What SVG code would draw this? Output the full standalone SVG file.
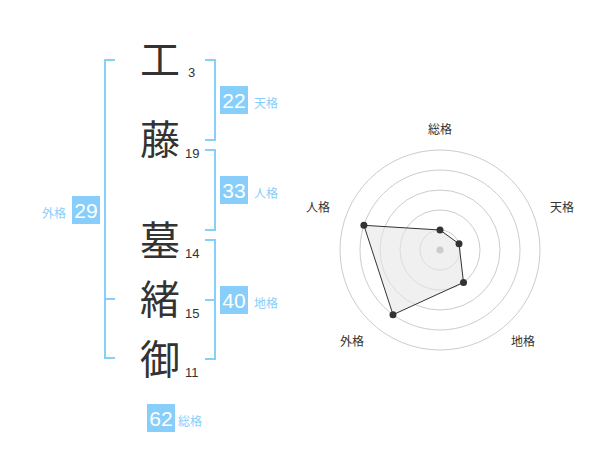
<svg xmlns="http://www.w3.org/2000/svg" width="600" height="470" viewBox="0 0 600 470">
<style>
.ch{font-family:"Noto Sans CJK JP","Noto Sans CJK SC",sans-serif;font-size:40px;fill:#333;text-anchor:middle}
.sn{font-family:"Liberation Sans",Arial,sans-serif;font-size:13px;fill:#333}
.br{fill:none;stroke:#87cefa;stroke-width:2}
.box{fill:#87cefa}
.bn{font-family:"Liberation Sans",Arial,sans-serif;font-size:21px;fill:#fff;text-anchor:middle}
.bl{font-family:"Noto Sans CJK JP","Noto Sans CJK SC",sans-serif;font-size:12px;fill:#87cefa}
.ring{fill:none;stroke:#ccc;stroke-width:1}
.rl{font-family:"Noto Sans CJK JP","Noto Sans CJK SC",sans-serif;font-size:12px;fill:#333;text-anchor:middle}
.dot{fill:#333}
</style>
<rect width="600" height="470" fill="#fff"/>
<g id="chars">
<g id="c1"><text class="ch" x="160" y="74">工</text><text class="sn" x="188" y="77">3</text></g>
<g id="c2"><text class="ch" x="160" y="154">藤</text><text class="sn" x="185" y="158">19</text></g>
<g id="c3"><text class="ch" x="160" y="255">墓</text><text class="sn" x="185" y="258">14</text></g>
<g id="c4"><text class="ch" x="160" y="314">緒</text><text class="sn" x="185" y="318">15</text></g>
<g id="c5"><text class="ch" x="160" y="374">御</text><text class="sn" x="185" y="377">11</text></g>
</g>
<g id="connectors">
<path class="br" d="M205,60H215V140H205"/>
<path class="br" d="M205,150H215V230H205"/>
<path class="br" d="M205,240H215V359H205M205,300H215"/>
<path class="br" d="M115,60H105V358H115M105,299H115"/>
</g>
<g id="tenkaku"><rect class="box" x="220" y="86" width="28" height="28"/><text class="bn" x="234" y="108">22</text><text class="bl" x="254" y="108">天格</text></g>
<g id="jinkaku"><rect class="box" x="220" y="176" width="28" height="28"/><text class="bn" x="234" y="198">33</text><text class="bl" x="254" y="198">人格</text></g>
<g id="chikaku"><rect class="box" x="220" y="286" width="28" height="28"/><text class="bn" x="234" y="308">40</text><text class="bl" x="254" y="308">地格</text></g>
<g id="gaikaku"><rect class="box" x="72" y="196" width="28" height="28"/><text class="bn" x="86" y="218">29</text><text class="bl" x="66" y="218" text-anchor="end">外格</text></g>
<g id="soukaku"><rect class="box" x="147" y="404" width="28" height="28"/><text class="bn" x="161" y="426">62</text><text class="bl" x="178" y="426">総格</text></g>
<g id="radar">
<circle class="ring" cx="440" cy="250" r="20"/>
<circle class="ring" cx="440" cy="250" r="40"/>
<circle class="ring" cx="440" cy="250" r="60"/>
<circle class="ring" cx="440" cy="250" r="80"/>
<circle class="ring" cx="440" cy="250" r="100"/>
<polygon points="440,230 459,243.8 463.5,282.4 393,314.7 363.9,225.3" fill="#e6e6e6" fill-opacity="0.6" stroke="#333" stroke-width="1"/>
<circle cx="440" cy="250" r="3.5" fill="#ccc"/>
<circle class="dot" cx="440" cy="230" r="3.5"/>
<circle class="dot" cx="459" cy="243.8" r="3.5"/>
<circle class="dot" cx="463.5" cy="282.4" r="3.5"/>
<circle class="dot" cx="393" cy="314.7" r="3.5"/>
<circle class="dot" cx="363.9" cy="225.3" r="3.5"/>
<text class="rl" x="440" y="134">総格</text>
<text class="rl" x="562" y="212">天格</text>
<text class="rl" x="523" y="346">地格</text>
<text class="rl" x="352" y="346">外格</text>
<text class="rl" x="318" y="212">人格</text>
</g>
</svg>
